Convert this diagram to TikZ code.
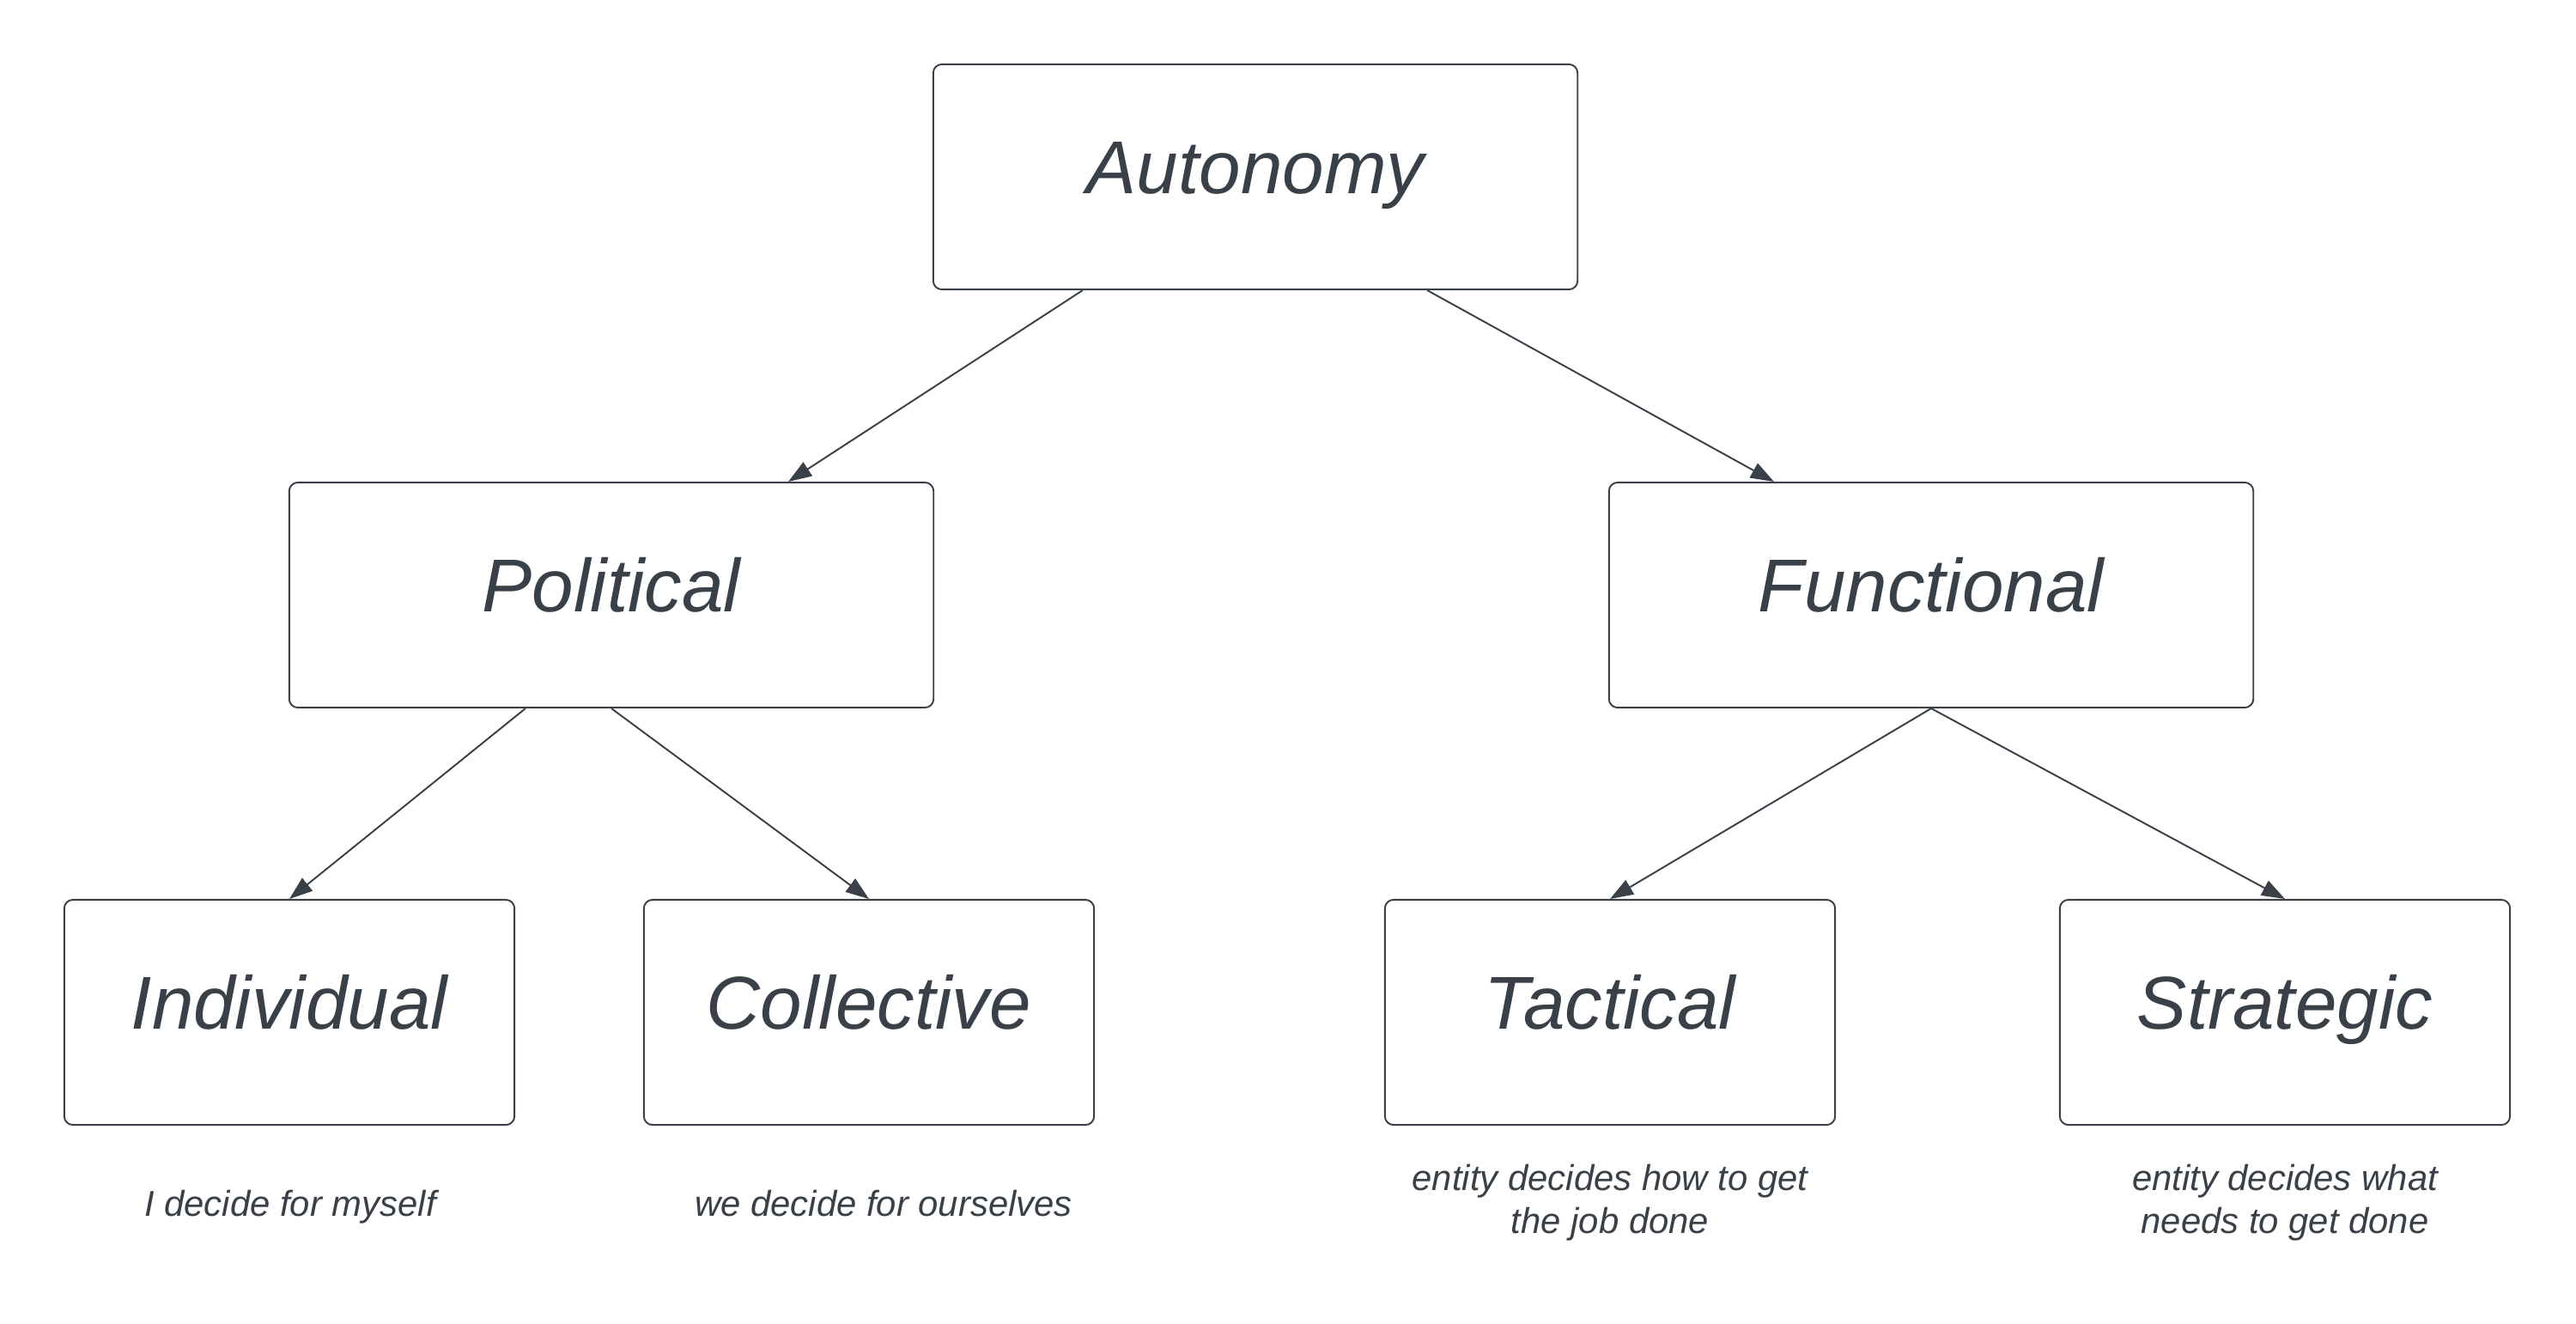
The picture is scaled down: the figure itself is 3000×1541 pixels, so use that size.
\documentclass[tikz,border=0pt]{standalone}
\usepackage{fontspec}
\setmainfont{Liberation Sans}
\usetikzlibrary{arrows.meta}
\definecolor{ink}{RGB}{58,64,72}
\tikzset{
  box/.style={draw=ink, line width=0.55pt, rounded corners=0.1cm, fill=white, inner sep=0pt},
  bigbox/.style={box, minimum width=7.5cm, minimum height=2.62cm},
  smallbox/.style={box, minimum width=5.24cm, minimum height=2.62cm},
  lbl/.style={text=ink, font=\fontsize{24.8}{30}\selectfont\itshape, inner sep=0pt, anchor=base},
  desc/.style={text=ink, font=\fontsize{11.9}{13.9}\selectfont\itshape, inner sep=0pt, anchor=base},
  arr/.style={draw=ink, line width=0.55pt, -{Triangle[length=0.27cm, width=0.19cm]}}
}
\begin{document}
\begin{tikzpicture}[x=0.01cm, y=-0.01cm]
\useasboundingbox[fill=white] (0,0) rectangle (3000,1541);
% boxes
\node[bigbox] (aut) at (1462,206) {};
\node[bigbox] (pol) at (712,693) {};
\node[bigbox] (fun) at (2249,693) {};
\node[smallbox] (ind) at (337,1179) {};
\node[smallbox] (col) at (1012,1179) {};
\node[smallbox] (tac) at (1875,1179) {};
\node[smallbox] (str) at (2661,1179) {};
% labels
\node[lbl] (autl) at ([yshift=-0.19cm]aut.center) {Autonomy};
\node[lbl] (poll) at ([yshift=-0.19cm]pol.center) {Political};
\node[lbl] (funl) at ([yshift=-0.19cm]fun.center) {Functional};
\node[lbl] (indl) at ([yshift=-0.19cm]ind.center) {Individual};
\node[lbl] (coll) at ([yshift=-0.19cm]col.center) {Collective};
\node[lbl] (tacl) at ([yshift=-0.19cm]tac.center) {Tactical};
\node[lbl] (strl) at ([yshift=-0.19cm]str.center) {Strategic};
% descriptions
\node[desc] (indd) at (338,1416) {I decide for myself};
\node[desc] (cold) at (1029,1416) {we decide for ourselves};
\node[desc] (tacd1) at (1875,1386) {entity decides how to get};
\node[desc] (tacd2) at (1875,1436) {the job done};
\node[desc] (strd1) at (2661,1386) {entity decides what};
\node[desc] (strd2) at (2661,1436) {needs to get done};
% connectors
\draw[arr] ([xshift=-2.01cm]aut.south) -- ([xshift=2.06cm]pol.north);
\draw[arr] ([xshift=2.00cm]aut.south) -- ([xshift=-1.83cm]fun.north);
\draw[arr] ([xshift=-1.00cm]pol.south) -- (ind.north);
\draw[arr] (pol.south) -- (col.north);
\draw[arr] (fun.south) -- (tac.north);
\draw[arr] (fun.south) -- (str.north);
\end{tikzpicture}
\end{document}
